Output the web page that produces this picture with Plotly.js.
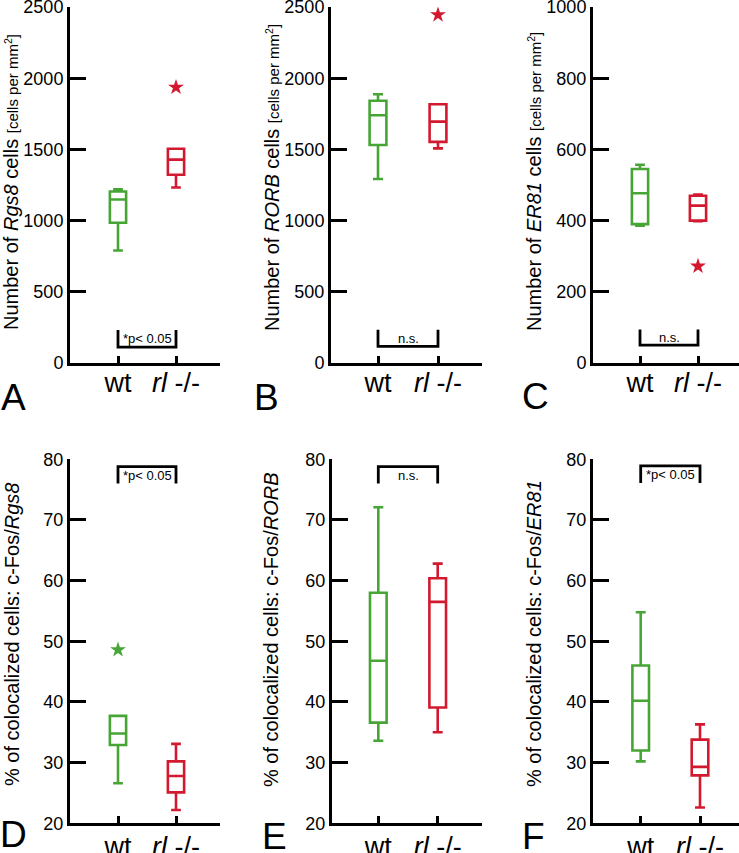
<!DOCTYPE html>
<html>
<head>
<meta charset="utf-8">
<script src="https://cdn.plot.ly/plotly-3.0.1.min.js"></script>
<style>html,body{margin:0;padding:0;background:#fff;}#chart{width:739px;height:853px;}</style>
</head>
<body>
<div id="chart"></div>
<script>
// ---------- data ----------
var groups = ['wt', 'rl'];
var groupLabels = ['wt', '<i>rl</i> -/-'];

// Panel A: Rgs8 cells per mm2  [wt, rl]
var A_lower = [790, 1232];
var A_q1 = [985, 1322];
var A_median = [1148, 1428];
var A_q3 = [1204, 1505];
var A_upper = [1220, 1505];
var A_outX = ['rl'];
var A_outY = [1936];
var A_ticks = [0, 500, 1000, 1500, 2000, 2500];

// Panel B: RORB cells per mm2
var B_lower = [1292, 1507];
var B_q1 = [1531, 1553];
var B_median = [1740, 1695];
var B_q3 = [1842, 1817];
var B_upper = [1887, 1817];
var B_outX = ['rl'];
var B_outY = [2445];
var B_ticks = [0, 500, 1000, 1500, 2000, 2500];

// Panel C: ER81 cells per mm2
var C_lower = [386, 398];
var C_q1 = [390, 400];
var C_median = [477, 442];
var C_q3 = [545, 470];
var C_upper = [557, 473];
var C_outX = ['rl'];
var C_outY = [272];
var C_ticks = [0, 200, 400, 600, 800, 1000];

// Panel D: % colocalized c-Fos/Rgs8
var D_lower = [26.6, 22.2];
var D_q1 = [32.9, 25.1];
var D_median = [34.8, 27.8];
var D_q3 = [37.7, 30.2];
var D_upper = [37.7, 33.1];
var D_outX = ['wt'];
var D_outY = [48.6];
var pct_ticks = [20, 30, 40, 50, 60, 70, 80];

// Panel E: % colocalized c-Fos/RORB
var E_lower = [33.6, 35.0];
var E_q1 = [36.6, 39.1];
var E_median = [46.8, 56.5];
var E_q3 = [58.0, 60.4];
var E_upper = [72.1, 62.8];

// Panel F: % colocalized c-Fos/ER81
var F_lower = [30.2, 22.6];
var F_q1 = [32.0, 27.9];
var F_median = [40.2, 29.3];
var F_q3 = [46.0, 33.8];
var F_upper = [54.8, 36.3];

var sigLabels = ['*p< 0.05', 'n.s.', 'n.s.', '*p< 0.05', 'n.s.', '*p< 0.05'];
var panelLetters = ['A', 'B', 'C', 'D', 'E', 'F'];
var yTitles = [
  'Number of <i>Rgs8</i> cells <span style="font-size:15px">[cells per mm<sup>2</sup>]</span>',
  'Number of <i>RORB</i> cells <span style="font-size:15px">[cells per mm<sup>2</sup>]</span>',
  'Number of <i>ER81</i> cells <span style="font-size:15px">[cells per mm<sup>2</sup>]</span>',
  '% of colocalized cells: c-Fos/<i>Rgs8</i>',
  '% of colocalized cells: c-Fos/<i>RORB</i>',
  '% of colocalized cells: c-Fos/<i>ER81</i>'
];

// ---------- styling / layout ----------
var W = 739, H = 853;
var GREEN = '#46a535', RED = '#d3192f';
var FONT = 'Liberation Sans, Arial, Helvetica, sans-serif';
var colors = [GREEN, RED];

// pixel geometry of each panel: axis left, axis right, wt px, rl px, top px, bottom px
var geo = [
  {l: 70,  r: 220, wt: 118,   rl: 176,   t: 7,     b: 363,   lab: -6},
  {l: 331, r: 482, wt: 378,   rl: 438,   t: 7,     b: 363,   lab: -6},
  {l: 593, r: 739, wt: 640,   rl: 698,   t: 7,     b: 363,   lab: -6},
  {l: 70,  r: 220, wt: 118,   rl: 176,   t: 459.3, b: 823.3, lab: -3},
  {l: 332, r: 482, wt: 378.3, rl: 437.7, t: 459.3, b: 823.3, lab: -3},
  {l: 593, r: 739, wt: 640.7, rl: 700,   t: 459.3, b: 823.3, lab: -3}
];

var panels = [
  {lo: A_lower, q1: A_q1, med: A_median, q3: A_q3, up: A_upper, ox: A_outX, oy: A_outY, oc: RED, ticks: A_ticks, yr: [0, 2500], br: [112, 232]},
  {lo: B_lower, q1: B_q1, med: B_median, q3: B_q3, up: B_upper, ox: B_outX, oy: B_outY, oc: RED, ticks: B_ticks, yr: [0, 2500], br: [117, 234]},
  {lo: C_lower, q1: C_q1, med: C_median, q3: C_q3, up: C_upper, ox: C_outX, oy: C_outY, oc: RED, ticks: C_ticks, yr: [0, 1000], br: [50, 94]},
  {lo: D_lower, q1: D_q1, med: D_median, q3: D_q3, up: D_upper, ox: D_outX, oy: D_outY, oc: GREEN, ticks: pct_ticks, yr: [20, 80], br: [78.8, 76.0]},
  {lo: E_lower, q1: E_q1, med: E_median, q3: E_q3, up: E_upper, ox: [], oy: [], oc: RED, ticks: pct_ticks, yr: [20, 80], br: [78.8, 76.0]},
  {lo: F_lower, q1: F_q1, med: F_median, q3: F_q3, up: F_upper, ox: [], oy: [], oc: RED, ticks: pct_ticks, yr: [20, 80], br: [78.9, 76.1]}
];

// panel title (y label) centres and letter centres in px
var titlePos = [[11, 182], [272, 178], [534, 182], [12, 635], [271, 630], [534, 634]];
var letterPos = [[13, 397], [266, 397], [535, 396], [13, 834], [274, 836], [533, 836]];

var data = [];
var layout = {
  width: W, height: H,
  margin: {l: 0, r: 0, t: 0, b: 0},
  paper_bgcolor: '#fff', plot_bgcolor: 'rgba(0,0,0,0)',
  showlegend: false,
  boxmode: 'overlay',
  font: {family: FONT, color: '#000'},
  annotations: []
};

panels.forEach(function (p, i) {
  var n = i + 1;
  var xa = 'x' + (n === 1 ? '' : n), ya = 'y' + (n === 1 ? '' : n);
  var g = geo[i];
  // category range so wt/rl land at the right pixels
  var span = (g.r - g.l) / (g.rl - g.wt);
  var r0 = -(g.wt - g.l) / (g.rl - g.wt);
  var r1 = r0 + span;

  groups.forEach(function (grp, k) {
    data.push({
      type: 'box', xaxis: xa, yaxis: ya,
      x: [grp],
      q1: [p.q1[k]], median: [p.med[k]], q3: [p.q3[k]],
      lowerfence: [p.lo[k]], upperfence: [p.up[k]],
      boxpoints: false,
      width: 0.28, whiskerwidth: 0.6,
      fillcolor: 'rgba(0,0,0,0)',
      line: {color: colors[k], width: 2.6},
      hoverinfo: 'skip'
    });
  });
  if (p.ox.length) {
    data.push({
      type: 'scatter', mode: 'markers', xaxis: xa, yaxis: ya,
      x: p.ox, y: p.oy,
      marker: {symbol: 'star', size: 12, color: p.oc, line: {width: 0}},
      hoverinfo: 'skip'
    });
  }
  // significance bracket
  data.push({
    type: 'scatter', mode: 'lines', xaxis: xa, yaxis: ya,
    x: [groups[0], groups[0], groups[1], groups[1]],
    y: [p.br[1], p.br[0], p.br[0], p.br[1]],
    line: {color: '#000', width: 2.8},
    hoverinfo: 'skip'
  });
  layout.annotations.push({
    xref: xa, yref: ya, x: 0.5, y: (p.br[0] + p.br[1]) / 2,
    text: sigLabels[i], showarrow: false,
    font: {size: 13, family: FONT, color: '#000'},
    xanchor: 'center', yanchor: 'middle'
  });

  layout['xaxis' + (n === 1 ? '' : n)] = {
    domain: [g.l / W, g.r / W],
    anchor: ya,
    type: 'category',
    categoryorder: 'array', categoryarray: groups,
    tickvals: groups, ticktext: groupLabels,
    range: [r0, r1],
    showline: true, linecolor: '#000', linewidth: 3,
    ticks: 'inside', ticklen: 7, tickwidth: 3, tickcolor: '#000',
    tickfont: {size: 27, family: FONT, color: '#000'},
    ticklabelstandoff: g.lab,
    ticklabeloverflow: 'allow',
    showgrid: false, zeroline: false, fixedrange: true
  };
  layout['yaxis' + (n === 1 ? '' : n)] = {
    domain: [1 - g.b / H, 1 - g.t / H],
    anchor: xa,
    range: p.yr,
    tickvals: p.ticks,
    showline: true, linecolor: '#000', linewidth: 3,
    ticks: 'inside', ticklen: 16, tickwidth: 3, tickcolor: '#000',
    tickfont: {size: 18, family: FONT, color: '#000'},
    ticklabeloverflow: 'allow',
    showgrid: false, zeroline: false, fixedrange: true
  };

  layout.annotations.push({
    xref: 'paper', yref: 'paper',
    x: titlePos[i][0] / W, y: 1 - titlePos[i][1] / H,
    text: yTitles[i], textangle: -90, showarrow: false,
    font: {size: 20, family: FONT, color: '#000'},
    xanchor: 'center', yanchor: 'middle'
  });
  layout.annotations.push({
    xref: 'paper', yref: 'paper',
    x: letterPos[i][0] / W, y: 1 - letterPos[i][1] / H,
    text: panelLetters[i], showarrow: false,
    font: {size: 37, family: FONT, color: '#000'},
    xanchor: 'center', yanchor: 'middle'
  });
});

Plotly.newPlot('chart', data, layout, {staticPlot: true, displayModeBar: false});
</script>
</body>
</html>
